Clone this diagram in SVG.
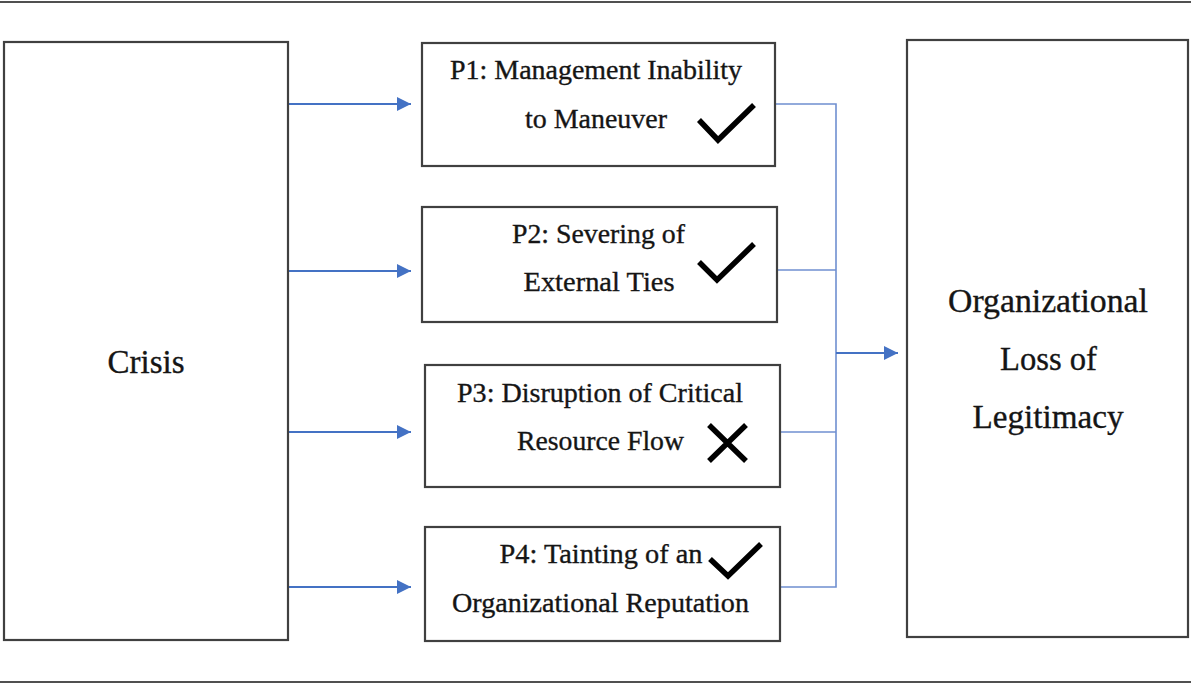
<svg xmlns="http://www.w3.org/2000/svg" width="1191" height="684" viewBox="0 0 1191 684">
  <style>
    .box { fill: #ffffff; stroke: #404040; stroke-width: 2.2; }
    .rule { stroke: #505050; stroke-width: 2.2; }
    .lbl { font-family: "Liberation Serif", "Times New Roman", serif; font-size: 28px; fill: #151515; stroke: #151515; stroke-width: 0.35; text-anchor: middle; }
    .big { font-size: 34px; }
    .flow { fill: none; stroke: #4472c4; stroke-width: 2.2; }
    .merge { fill: none; stroke: #6f8fd0; stroke-width: 1.6; }
    .mark { fill: none; stroke: #000000; stroke-width: 5.5; stroke-linecap: butt; stroke-linejoin: miter; }
  </style>
  <defs>
    <marker id="arrow" viewBox="0 0 14 14" refX="14" refY="7" markerWidth="14" markerHeight="14" markerUnits="userSpaceOnUse" orient="auto">
      <path d="M0,0 L14,7 L0,14 Z" fill="#4472c4"/>
    </marker>
  </defs>

  <rect width="1191" height="684" fill="#ffffff"/>

  <!-- horizontal rules above and below the figure -->
  <line class="rule" x1="0" y1="2" x2="1191" y2="2"/>
  <line class="rule" x1="0" y1="682" x2="1191" y2="682"/>

  <g id="connectors">
    <line class="flow" x1="289" y1="104" x2="411" y2="104" marker-end="url(#arrow)"/>
    <line class="flow" x1="289" y1="271" x2="411" y2="271" marker-end="url(#arrow)"/>
    <line class="flow" x1="289" y1="432" x2="411" y2="432" marker-end="url(#arrow)"/>
    <line class="flow" x1="289" y1="587" x2="411" y2="587" marker-end="url(#arrow)"/>
    <polyline class="merge" points="776,104 836,104 836,587 781,587"/>
    <line class="merge" x1="778" y1="270" x2="836" y2="270"/>
    <line class="merge" x1="781" y1="432" x2="836" y2="432"/>
    <line class="flow" x1="836" y1="353" x2="898" y2="353" marker-end="url(#arrow)"/>
  </g>

  <g id="crisis">
    <rect class="box" x="4" y="42" width="284" height="598"/>
    <text class="lbl big" x="146" y="373" textLength="77" lengthAdjust="spacingAndGlyphs">Crisis</text>
  </g>

  <g id="p1">
    <rect class="box" x="422" y="43" width="353" height="123"/>
    <text class="lbl" x="596" y="79" textLength="292" lengthAdjust="spacingAndGlyphs">P1: Management Inability</text>
    <text class="lbl" x="596" y="128" textLength="142" lengthAdjust="spacingAndGlyphs">to Maneuver</text>
    <polyline class="mark" points="699,120 718,140 754,105"/>
  </g>

  <g id="p2">
    <rect class="box" x="422" y="207" width="355" height="115"/>
    <text class="lbl" x="598.5" y="243" textLength="173" lengthAdjust="spacingAndGlyphs">P2: Severing of</text>
    <text class="lbl" x="599" y="291" textLength="151" lengthAdjust="spacingAndGlyphs">External Ties</text>
    <polyline class="mark" points="699,262 717,280 754,244"/>
  </g>

  <g id="p3">
    <rect class="box" x="425" y="365" width="355" height="122"/>
    <text class="lbl" x="600" y="402" textLength="286" lengthAdjust="spacingAndGlyphs">P3: Disruption of Critical</text>
    <text class="lbl" x="600.5" y="450" textLength="167" lengthAdjust="spacingAndGlyphs">Resource Flow</text>
    <path class="mark" d="M709,425 L746,461 M746,425 L709,461"/>
  </g>

  <g id="p4">
    <rect class="box" x="425" y="527" width="355" height="114"/>
    <text class="lbl" x="601" y="563" textLength="203" lengthAdjust="spacingAndGlyphs">P4: Tainting of an</text>
    <text class="lbl" x="600.5" y="612" textLength="297" lengthAdjust="spacingAndGlyphs">Organizational Reputation</text>
    <polyline class="mark" points="710,559 728,576 761,544"/>
  </g>

  <g id="legitimacy">
    <rect class="box" x="907" y="40" width="281" height="597"/>
    <text class="lbl big" x="1048" y="312" textLength="200" lengthAdjust="spacingAndGlyphs">Organizational</text>
    <text class="lbl big" x="1048.5" y="370" textLength="97" lengthAdjust="spacingAndGlyphs">Loss of</text>
    <text class="lbl big" x="1048" y="428" textLength="151" lengthAdjust="spacingAndGlyphs">Legitimacy</text>
  </g>
</svg>
